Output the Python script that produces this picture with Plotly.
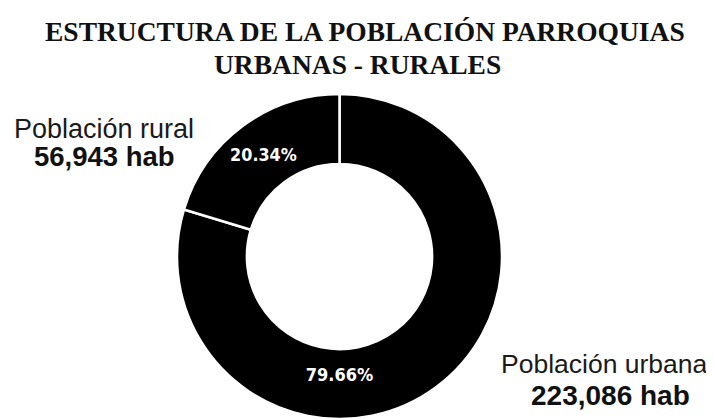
import plotly.graph_objects as go

# Data
labels = ["Población urbana", "Población rural"]
values = [223086, 56943]
pct_text = ["79.66%", "20.34%"]
title_lines = ["ESTRUCTURA DE LA POBLACIÓN PARROQUIAS", "URBANAS - RURALES"]

# page body has an 8px margin; size the figure to fit the 714x419 window
OFF = 8
W, H = 714 - OFF, 419 - OFF


def px(x):
    return (x - OFF) / W


def py(y):
    return min(1.0, max(0.0, 1 - (y - OFF) / H))


cx, cy, r = 339.5, 256.5, 162.5

fig = go.Figure()
fig.add_trace(go.Pie(
    labels=labels,
    values=values,
    text=pct_text,
    textinfo="text",
    textposition="inside",
    insidetextorientation="horizontal",
    hole=0.57,
    sort=False,
    direction="clockwise",
    rotation=0,
    marker=dict(colors=["#000000", "#000000"], line=dict(color="#ffffff", width=2.5)),
    textfont=dict(family="DejaVu Sans Condensed, DejaVu Sans, sans-serif",
                  size=18, color="#ffffff", weight="bold"),
    domain=dict(x=[px(cx - r), px(cx + r)], y=[py(cy + r), py(cy - r)]),
    showlegend=False,
    hoverinfo="label+value",
))

# Title
title_pos = [(365, 31), (357, 64)]
for line, (x, y) in zip(title_lines, title_pos):
    fig.add_annotation(
        x=px(x), y=py(y), xref="paper", yref="paper",
        text="<b>" + line + "</b>", showarrow=False,
        font=dict(family="Liberation Serif, serif", size=27.5, color="#111111"),
        xanchor="center", yanchor="middle",
    )

# Outside labels: (x1, y1, x2, y2, size line1, size line2)
label_pos = [(604, 364, 610, 395, 26.5, 28), (104, 129, 104, 156, 27, 27.5)]
for lab, val, (x1, y1, x2, y2, s1, s2) in zip(labels, values, label_pos):
    fig.add_annotation(
        x=px(x1), y=py(y1), xref="paper", yref="paper",
        text=lab, showarrow=False,
        font=dict(family="Liberation Sans, Arial, sans-serif", size=s1, color="#1a1a1a"),
        xanchor="center", yanchor="middle",
    )
    fig.add_annotation(
        x=px(x2), y=py(y2), xref="paper", yref="paper",
        text=f"<b>{val:,} hab</b>", showarrow=False,
        font=dict(family="Liberation Sans, Arial, sans-serif", size=s2, color="#111111"),
        xanchor="center", yanchor="middle",
    )

fig.update_layout(
    width=W, height=H,
    margin=dict(l=0, r=0, t=0, b=0),
    paper_bgcolor="#ffffff", plot_bgcolor="#ffffff",
)

fig.write_html("out.html")
